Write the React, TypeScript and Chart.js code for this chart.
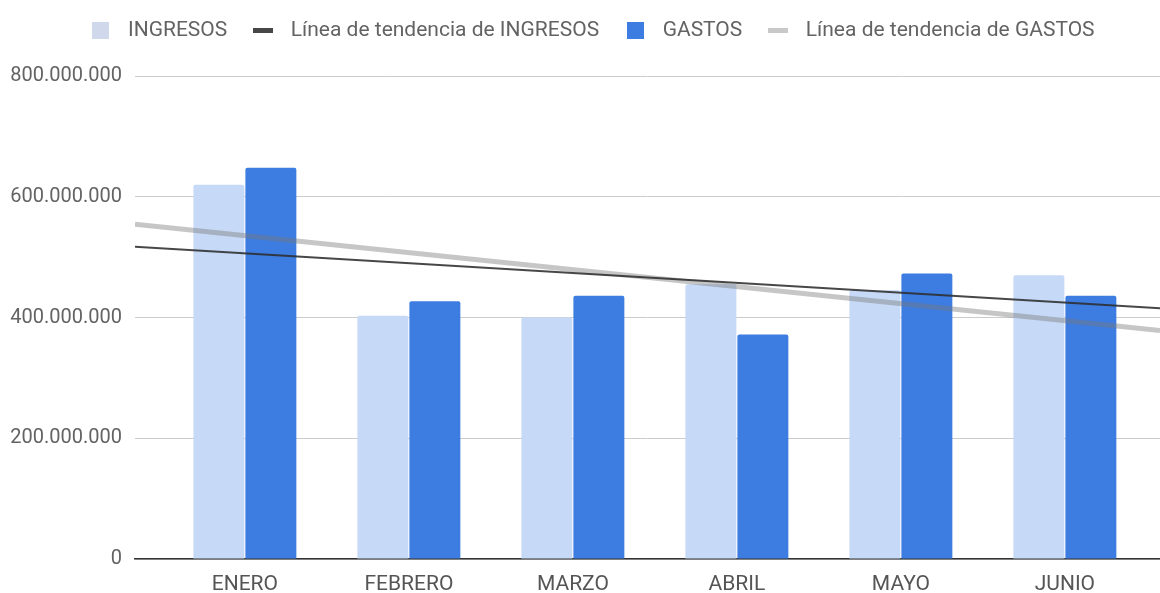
import React, { useEffect, useRef } from "react";
import { Chart, registerables } from "chart.js";

Chart.register(...registerables);

const MONTHS = ["ENERO", "FEBRERO", "MARZO", "ABRIL", "MAYO", "JUNIO"];
const INGRESOS = [620e6, 403e6, 400e6, 455e6, 445e6, 470e6];
const GASTOS = [648e6, 427e6, 436e6, 372e6, 473e6, 436e6];
const Y_TICKS = [0, 200e6, 400e6, 600e6, 800e6];
const LEGEND_LABELS = [
  "INGRESOS",
  "Línea de tendencia de INGRESOS",
  "GASTOS",
  "Línea de tendencia de GASTOS",
];

const X_MIN = -0.67;
const X_MAX = 5.58;

const COL_ING = "#c6d9f6";
const COL_GAS = "#3d7ce0";
const COL_TR_ING = "rgba(45,45,45,0.88)";
const COL_TR_GAS = "rgba(120,120,120,0.42)";
const TXT = "#636363";

function regression(vals: number[]) {
  const n = vals.length;
  const mx = (n - 1) / 2;
  const my = vals.reduce((a, b) => a + b, 0) / n;
  let sxy = 0;
  let sxx = 0;
  vals.forEach((v, i) => {
    sxy += (i - mx) * (v - my);
    sxx += (i - mx) * (i - mx);
  });
  const slope = sxy / sxx;
  return (x: number) => my + slope * (x - mx);
}

function fmt(v: number) {
  return String(Math.round(v)).replace(/\B(?=(\d{3})+(?!\d))/g, ".");
}

function marker(w: number, h: number, color: string) {
  const c = document.createElement("canvas");
  c.width = w;
  c.height = h;
  const ctx = c.getContext("2d") as CanvasRenderingContext2D;
  ctx.fillStyle = color;
  ctx.fillRect(0, 0, w, h);
  return c;
}

const legendSpacer = {
  id: "legendSpacer",
  beforeInit(chart: any) {
    const legend = chart.legend;
    if (!legend) return;
    const fit = legend.fit;
    legend.fit = function () {
      fit.call(this);
      this.height += 28;
    };
  },
  afterLayout(chart: any) {
    const legend = chart.legend;
    if (!legend) return;
    legend.left += 9;
    legend.right += 9;
    legend.top += 3;
    legend.bottom += 3;
  },
};

export default function App() {
  const ref = useRef<HTMLCanvasElement | null>(null);

  useEffect(() => {
    document.body.style.margin = "0";
    const fIng = regression(INGRESOS);
    const fGas = regression(GASTOS);
    const mIng = marker(17, 17, "#d0d8ec");
    const mTrIng = marker(20, 5, "#474747");
    const mGas = marker(17, 17, COL_GAS);
    const mTrGas = marker(20, 5, "#c9c9c9");
    const chart = new Chart(ref.current as HTMLCanvasElement, {
      type: "bar",
      plugins: [legendSpacer],
      data: {
        datasets: [
          {
            type: "bar",
            label: LEGEND_LABELS[0],
            data: INGRESOS.map((v, i) => ({ x: i, y: v })),
            backgroundColor: COL_ING,
            borderRadius: 2,
            borderSkipped: "start",
            categoryPercentage: 0.634,
            barPercentage: 0.98,
            order: 2,
          },
          {
            type: "line",
            label: LEGEND_LABELS[1],
            data: [
              { x: X_MIN, y: fIng(X_MIN) },
              { x: X_MAX, y: fIng(X_MAX) },
            ],
            borderColor: COL_TR_ING,
            borderWidth: 2,
            pointRadius: 0,
            order: 0,
          },
          {
            type: "bar",
            label: LEGEND_LABELS[2],
            data: GASTOS.map((v, i) => ({ x: i, y: v })),
            backgroundColor: COL_GAS,
            borderRadius: 2,
            borderSkipped: "start",
            categoryPercentage: 0.634,
            barPercentage: 0.98,
            order: 2,
          },
          {
            type: "line",
            label: LEGEND_LABELS[3],
            data: [
              { x: X_MIN, y: fGas(X_MIN) },
              { x: X_MAX, y: fGas(X_MAX) },
            ],
            borderColor: COL_TR_GAS,
            borderWidth: 5,
            pointRadius: 0,
            order: 1,
          },
        ] as any,
      },
      options: {
        responsive: false,
        animation: false,
        devicePixelRatio: 1,
        layout: { padding: { top: -2, right: 0, bottom: 0, left: 0 } },
        plugins: {
          tooltip: { enabled: false },
          legend: {
            position: "top",
            labels: {
              usePointStyle: true,
              pointStyleWidth: 34,
              padding: 19,
              color: TXT,
              font: { family: "Roboto", size: 21 },
              generateLabels: () => [
                { text: LEGEND_LABELS[0], pointStyle: mIng, lineWidth: 0, datasetIndex: 0, fontColor: TXT },
                { text: LEGEND_LABELS[1], pointStyle: mTrIng, lineWidth: 0, datasetIndex: 1, fontColor: TXT },
                { text: LEGEND_LABELS[2], pointStyle: mGas, lineWidth: 0, datasetIndex: 2, fontColor: TXT },
                { text: LEGEND_LABELS[3], pointStyle: mTrGas, lineWidth: 0, datasetIndex: 3, fontColor: TXT },
              ] as any,
            },
          },
        },
        scales: {
          x: {
            type: "linear",
            min: X_MIN,
            max: X_MAX,
            offset: false,
            grid: { display: false, drawTicks: false, offset: false },
            border: { display: true, color: "#333333", width: 1.5 },
            afterFit: (scale: any) => {
              scale.height = 34;
            },
            afterBuildTicks: (scale: any) => {
              scale.ticks = MONTHS.map((_, i) => ({ value: i }));
            },
            ticks: {
              padding: 13,
              color: "#555555",
              font: { family: "Roboto", size: 21 },
              autoSkip: false,
              maxRotation: 0,
              callback: (_v: any, i: number) => MONTHS[i],
            },
          },
          y: {
            min: 0,
            max: 800e6,
            afterFit: (scale: any) => {
              scale.width = 135;
            },
            afterBuildTicks: (scale: any) => {
              scale.ticks = Y_TICKS.map((v) => ({ value: v }));
            },
            grid: { color: "#cccccc", lineWidth: 1, drawTicks: false },
            border: { display: false },
            ticks: {
              padding: 13,
              color: TXT,
              font: { family: "Roboto", size: 20 },
              callback: (v: any) => fmt(Number(v)),
            },
          },
        },
      },
    });
    return () => chart.destroy();
  }, []);

  return (
    <div style={{ position: "fixed", left: 0, top: 0, width: 1160, height: 593, background: "#fff" }}>
      <canvas ref={ref} width={1160} height={593} />
    </div>
  );
}
